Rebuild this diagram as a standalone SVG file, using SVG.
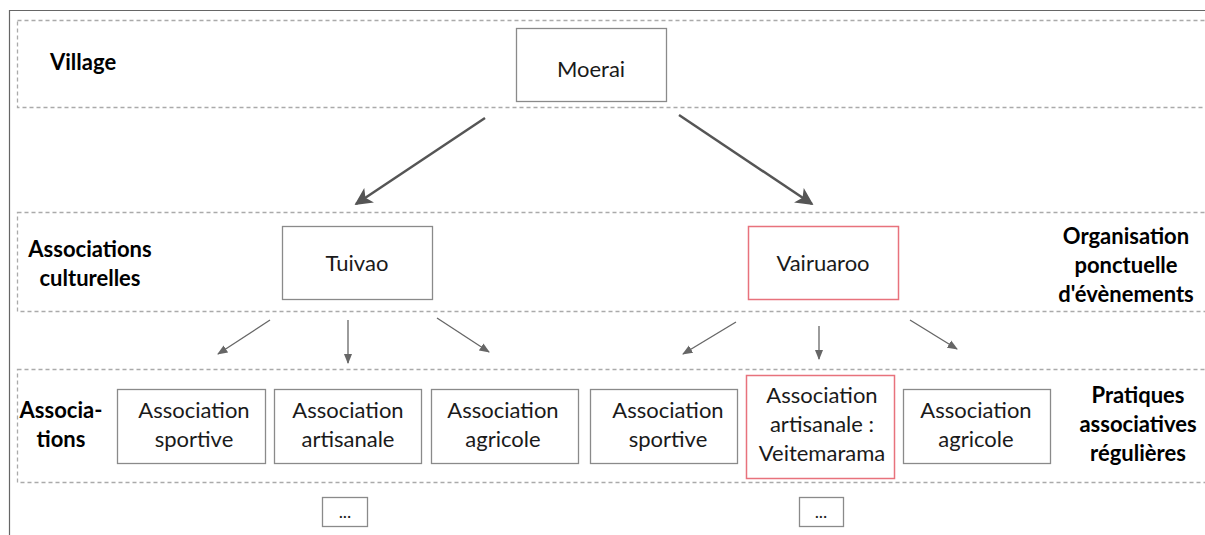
<svg xmlns="http://www.w3.org/2000/svg" width="1205" height="535" viewBox="0 0 1205 535">
<style>
.band{fill:none;stroke:#aaaaaa;stroke-width:1.3;stroke-dasharray:4 3}
.box{fill:#ffffff;stroke:#8a8a8a;stroke-width:1.3}
.red{fill:#ffffff;stroke:#e8727c;stroke-width:1.5}
.t{font-family:Lato,"Liberation Sans",sans-serif;font-size:22px;fill:#1a1a1a;text-anchor:middle}
.b{font-family:Lato,"Liberation Sans",sans-serif;font-size:22px;font-weight:bold;fill:#000000}
.big{stroke:#555555;stroke-width:2.5;fill:none}
.sm{stroke:#666666;stroke-width:1.3;fill:none}
</style>
<defs>
<marker id="ab" viewBox="0 0 10 10" refX="9" refY="5" markerWidth="7" markerHeight="7" markerUnits="strokeWidth" orient="auto">
<path d="M0,0 L10,5 L0,10 L2.5,5 z" fill="#555555"/>
</marker>
<marker id="as" viewBox="0 0 10 10" refX="9" refY="5" markerWidth="8" markerHeight="8" markerUnits="strokeWidth" orient="auto">
<path d="M0,1 L10,5 L0,9 z" fill="#666666"/>
</marker>
</defs>
<rect width="1205" height="535" fill="#ffffff"/>
<path d="M9.5,535 L9.5,10.5 L1205,10.5" fill="none" stroke="#666666" stroke-width="1.2"/>
<g id="bands">
<rect class="band" x="17.5" y="20.5" width="1200" height="87"/>
<rect class="band" x="17.5" y="212.5" width="1200" height="99"/>
<rect class="band" x="17.5" y="369.5" width="1200" height="113"/>
</g>
<g id="labels">
<text class="b" x="50" y="70">Village</text>
<text class="b" x="90" y="257" text-anchor="middle">Associations</text>
<text class="b" x="90" y="286" text-anchor="middle">culturelles</text>
<text class="b" x="61" y="418" text-anchor="middle">Associa-</text>
<text class="b" x="61" y="447" text-anchor="middle">tions</text>
<text class="b" x="1126" y="244" text-anchor="middle">Organisation</text>
<text class="b" x="1126" y="273" text-anchor="middle">ponctuelle</text>
<text class="b" x="1126" y="302" text-anchor="middle">d'évènements</text>
<text class="b" x="1138" y="403" text-anchor="middle">Pratiques</text>
<text class="b" x="1138" y="432" text-anchor="middle">associatives</text>
<text class="b" x="1138" y="461" text-anchor="middle">régulières</text>
</g>
<g id="connectors">
<line class="big" x1="485" y1="118" x2="356" y2="204" marker-end="url(#ab)"/>
<line class="big" x1="679" y1="115" x2="812" y2="204" marker-end="url(#ab)"/>
<line class="sm" x1="270" y1="320" x2="218" y2="354" marker-end="url(#as)"/>
<line class="sm" x1="348" y1="320" x2="348" y2="363" marker-end="url(#as)"/>
<line class="sm" x1="437" y1="318" x2="489" y2="352" marker-end="url(#as)"/>
<line class="sm" x1="736" y1="322" x2="683" y2="354" marker-end="url(#as)"/>
<line class="sm" x1="819" y1="326" x2="819" y2="359" marker-end="url(#as)"/>
<line class="sm" x1="910" y1="320" x2="957" y2="349" marker-end="url(#as)"/>
</g>
<g id="moerai"><rect class="box" x="516.5" y="28.5" width="150" height="73"/><text class="t" x="591" y="77">Moerai</text></g>
<g id="tuivao"><rect class="box" x="282.5" y="226.5" width="150" height="73"/><text class="t" x="357" y="271">Tuivao</text></g>
<g id="vairuaroo"><rect class="red" x="748.5" y="226.5" width="150" height="73"/><text class="t" x="823" y="271">Vairuaroo</text></g>
<g id="sportive1"><rect class="box" x="117.5" y="389.5" width="148" height="74"/><text class="t" x="194" y="418">Association</text><text class="t" x="194" y="447">sportive</text></g>
<g id="artisanale1"><rect class="box" x="274.5" y="389.5" width="147" height="74"/><text class="t" x="348" y="418">Association</text><text class="t" x="348" y="447">artisanale</text></g>
<g id="agricole1"><rect class="box" x="431.5" y="389.5" width="147" height="74"/><text class="t" x="503" y="418">Association</text><text class="t" x="503" y="447">agricole</text></g>
<g id="sportive2"><rect class="box" x="590.5" y="389.5" width="147" height="74"/><text class="t" x="668" y="418">Association</text><text class="t" x="668" y="447">sportive</text></g>
<g id="veitemarama"><rect class="red" x="746.5" y="375.5" width="148" height="103"/><text class="t" x="822" y="403">Association</text><text class="t" x="822" y="432">artisanale :</text><text class="t" x="822" y="461">Veitemarama</text></g>
<g id="agricole2"><rect class="box" x="903.5" y="389.5" width="147" height="74"/><text class="t" x="976" y="418">Association</text><text class="t" x="976" y="447">agricole</text></g>
<g id="more1"><rect class="box" x="322.5" y="497.5" width="45" height="29"/><text class="t" x="345" y="518" style="font-size:18px">...</text></g>
<g id="more2"><rect class="box" x="799.5" y="497.5" width="44" height="29"/><text class="t" x="821" y="518" style="font-size:18px">...</text></g>
</svg>
